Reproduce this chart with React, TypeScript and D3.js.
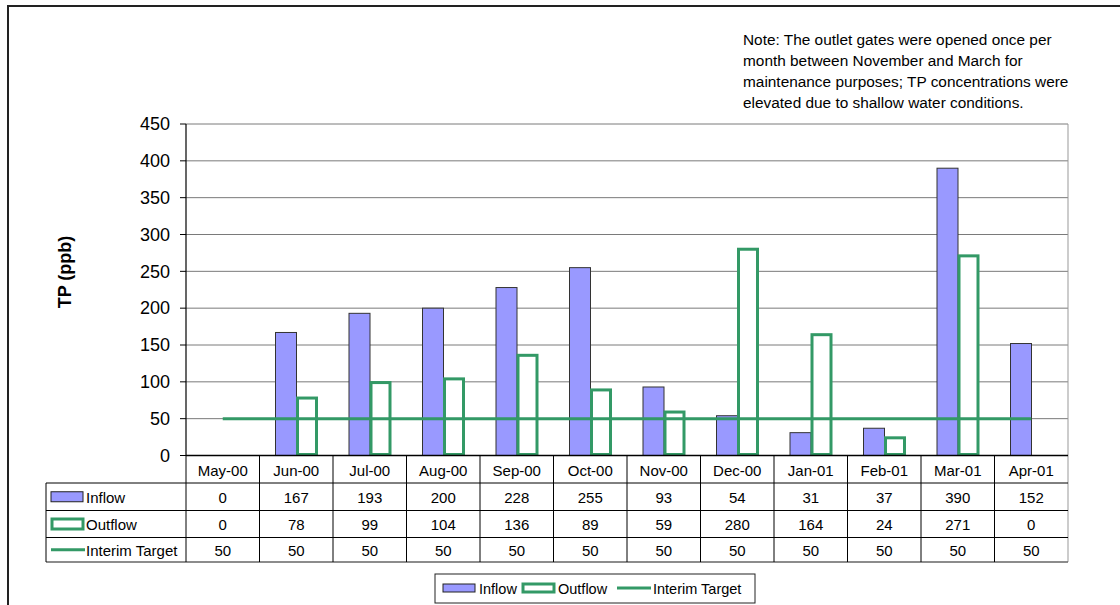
import { useRef, useEffect } from 'react';
import * as d3 from 'd3';

// dados do grafico
const months = ['May-00', 'Jun-00', 'Jul-00', 'Aug-00', 'Sep-00', 'Oct-00', 'Nov-00', 'Dec-00', 'Jan-01', 'Feb-01', 'Mar-01', 'Apr-01'];
const inflow = [0, 167, 193, 200, 228, 255, 93, 54, 31, 37, 390, 152];
const outflow = [0, 78, 99, 104, 136, 89, 59, 280, 164, 24, 271, 0];
const interimTarget = [50, 50, 50, 50, 50, 50, 50, 50, 50, 50, 50, 50];
const yTicks = [0, 50, 100, 150, 200, 250, 300, 350, 400, 450];
const seriesNames = ['Inflow', 'Outflow', 'Interim Target'];
const noteLines = [
  'Note: The outlet gates were opened once per',
  'month between November and March for',
  'maintenance purposes; TP concentrations were',
  'elevated due to shallow water conditions.',
];

const FONT = '"Liberation Sans", Arial, sans-serif';
const BLUE = '#9999ff';
const GREEN = '#339966';

const App = () => {
  const svgRef = useRef<SVGSVGElement>(null);

  useEffect(() => {
    const svg = d3.select(svgRef.current);
    svg.selectAll('*').remove();

    const left = 186, right = 1068, top = 124, bottom = 455.5;
    const tableLeft = 46;
    const rowLines = [bottom, 483, 510.5, 537.5, 562];

    const x = d3.scaleBand().domain(months).range([left, right]);
    const xs = d3.scaleBand().domain(['Inflow', 'Outflow']).range([16, 58]);
    const y = d3.scaleLinear().domain([0, 450]).range([bottom, top]);

    // moldura externa
    svg.append('rect')
      .attr('x', 8).attr('y', 6).attr('width', 1130).attr('height', 640)
      .attr('fill', 'white').attr('stroke', '#222').attr('stroke-width', 2);

    // grade
    svg.append('g').selectAll('line')
      .data(yTicks.filter((d) => d > 0))
      .join('line')
      .attr('x1', left).attr('x2', right)
      .attr('y1', (d) => y(d)).attr('y2', (d) => y(d))
      .attr('stroke', '#7a7a7a').attr('stroke-width', 1);

    svg.append('line')
      .attr('x1', right).attr('x2', right).attr('y1', top).attr('y2', rowLines[4])
      .attr('stroke', '#999').attr('stroke-width', 1);

    // barras
    const idx = months.map((_, i) => i);
    svg.append('g').selectAll('rect')
      .data(idx.filter((i) => inflow[i] > 0))
      .join('rect')
      .attr('x', (i) => (x(months[i]) as number) + (xs('Inflow') as number))
      .attr('y', (i) => y(inflow[i]))
      .attr('width', xs.bandwidth())
      .attr('height', (i) => bottom - y(inflow[i]))
      .attr('fill', BLUE).attr('stroke', '#333').attr('stroke-width', 1);

    svg.append('g').selectAll('rect')
      .data(idx.filter((i) => outflow[i] > 0))
      .join('rect')
      .attr('x', (i) => (x(months[i]) as number) + (xs('Outflow') as number) + 1)
      .attr('y', (i) => y(outflow[i]))
      .attr('width', xs.bandwidth() - 2)
      .attr('height', (i) => bottom - y(outflow[i]) - 1)
      .attr('fill', 'white').attr('stroke', GREEN).attr('stroke-width', 3);

    // linha da meta
    const line = d3.line<number>()
      .x((i) => (x(months[i]) as number) + x.bandwidth() / 2)
      .y((i) => y(interimTarget[i]));
    svg.append('path').datum(idx).attr('d', line)
      .attr('fill', 'none').attr('stroke', GREEN).attr('stroke-width', 3);

    // eixo Y
    svg.append('line')
      .attr('x1', left).attr('x2', left).attr('y1', top).attr('y2', bottom)
      .attr('stroke', '#000').attr('stroke-width', 1.2);
    const gy = svg.append('g');
    gy.selectAll('line').data(yTicks).join('line')
      .attr('x1', left - 6).attr('x2', left)
      .attr('y1', (d) => y(d)).attr('y2', (d) => y(d))
      .attr('stroke', '#000');
    gy.selectAll('text').data(yTicks).join('text')
      .attr('x', 170).attr('y', (d) => y(d))
      .attr('dy', '0.35em').attr('text-anchor', 'end')
      .style('font', `18px ${FONT}`)
      .text((d) => d);

    svg.append('text')
      .attr('transform', 'translate(71,272) rotate(-90)')
      .attr('text-anchor', 'middle')
      .style('font', `bold 18px ${FONT}`)
      .text('TP (ppb)');

    // tabela de dados
    const tg = svg.append('g');
    tg.append('line')
      .attr('x1', left).attr('x2', right).attr('y1', bottom).attr('y2', bottom)
      .attr('stroke', '#000').attr('stroke-width', 1.5);
    rowLines.slice(1).forEach((ry, k) => {
      tg.append('line')
        .attr('x1', tableLeft).attr('x2', right).attr('y1', ry).attr('y2', ry)
        .attr('stroke', k === 3 ? '#666' : '#000').attr('stroke-width', k === 3 ? 1.5 : 1);
    });
    tg.append('line')
      .attr('x1', tableLeft).attr('x2', tableLeft).attr('y1', rowLines[1]).attr('y2', rowLines[4])
      .attr('stroke', '#000');
    tg.selectAll('line.col').data(months).join('line')
      .attr('class', 'col')
      .attr('x1', (m) => x(m) as number).attr('x2', (m) => x(m) as number)
      .attr('y1', bottom).attr('y2', rowLines[4])
      .attr('stroke', '#000');

    const cellMid = (r: number) => (rowLines[r] + rowLines[r + 1]) / 2;
    const rows = [months, inflow, outflow, interimTarget];
    rows.forEach((vals, r) => {
      tg.append('g').selectAll('text').data(vals as (string | number)[]).join('text')
        .attr('x', (_, i) => (x(months[i]) as number) + x.bandwidth() / 2)
        .attr('y', cellMid(r) + 1)
        .attr('dy', '0.35em').attr('text-anchor', 'middle')
        .style('font', `15px ${FONT}`)
        .text((d) => d);
    });

    // simbolos das series (tabela e legenda)
    const swatch = (g: any, name: string, sx: number, cy: number, h: number) => {
      if (name === 'Inflow') {
        g.append('rect').attr('x', sx).attr('y', cy - h / 2).attr('width', 32).attr('height', h)
          .attr('fill', BLUE).attr('stroke', '#222').attr('stroke-width', 1);
      } else if (name === 'Outflow') {
        g.append('rect').attr('x', sx + 1).attr('y', cy - h / 2).attr('width', 31).attr('height', h)
          .attr('fill', 'white').attr('stroke', GREEN).attr('stroke-width', 3);
      } else {
        g.append('line').attr('x1', sx).attr('x2', sx + 34).attr('y1', cy).attr('y2', cy)
          .attr('stroke', GREEN).attr('stroke-width', 3);
      }
    };

    seriesNames.forEach((name, k) => {
      const cy = cellMid(k + 1);
      swatch(tg, name, 51, cy, 10);
      tg.append('text').attr('x', 86).attr('y', cy + 1).attr('dy', '0.35em')
        .style('font', `15px ${FONT}`).text(name);
    });

    // legenda
    const lg = svg.append('g');
    lg.append('rect').attr('x', 435).attr('y', 574).attr('width', 320).attr('height', 29)
      .attr('fill', 'white').attr('stroke', '#222').attr('stroke-width', 1);
    const legX = [443, 522, 617];
    seriesNames.forEach((name, k) => {
      swatch(lg, name, legX[k], 588, 8);
      lg.append('text').attr('x', legX[k] + 36).attr('y', 589).attr('dy', '0.35em')
        .style('font', `14.5px ${FONT}`).text(name);
    });

    // nota
    svg.append('g').selectAll('text').data(noteLines).join('text')
      .attr('x', 743).attr('y', (_, i) => 45 + i * 21)
      .style('font', `15.4px ${FONT}`)
      .text((d) => d);
  }, []);

  return (
    <svg
      ref={svgRef}
      width={1120}
      height={605}
      style={{ position: 'absolute', left: 0, top: 0, background: 'white' }}
    />
  );
};

export default App;
